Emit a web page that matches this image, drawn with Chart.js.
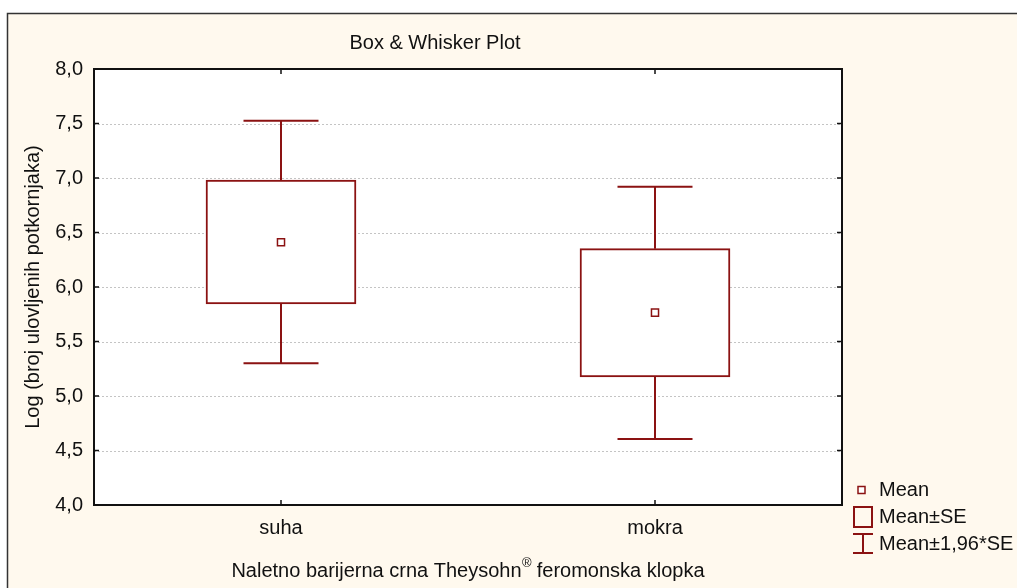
<!DOCTYPE html>
<html>
<head>
<meta charset="utf-8">
<script src="https://cdn.jsdelivr.net/npm/chart.js@4/dist/chart.umd.min.js"></script>
<style>
  html, body { margin: 0; padding: 0; background: #ffffff; }
  #wrap { position: absolute; left: 0; top: 0; width: 1017px; height: 588px; }
</style>
</head>
<body>
<div id="wrap"><canvas id="c" width="1017" height="588"></canvas></div>
<script>
// ---- data ----
const categories = ['suha', 'mokra'];
const means      = [6.41, 5.765];
const seLower    = [5.845, 5.175];   // Mean - SE
const seUpper    = [6.98, 6.352];    // Mean + SE
const ciLower    = [5.30, 4.606];    // Mean - 1,96*SE
const ciUpper    = [7.526, 6.92];    // Mean + 1,96*SE
const yTicks     = [4.0, 4.5, 5.0, 5.5, 6.0, 6.5, 7.0, 7.5, 8.0];

const titleText  = 'Box & Whisker Plot';
const xTitle     = 'Naletno barijerna crna Theysohn';
const xTitleSup  = '\u00AE';
const xTitleEnd  = ' feromonska klopka';
const yTitle     = 'Log (broj ulovljenih potkornjaka)';
const legendLabels = ['Mean', 'Mean\u00B1SE', 'Mean\u00B11,96*SE'];

const RED = '#8b1212';
const FONT = '"Liberation Sans", Arial, sans-serif';

const decor = {
  id: 'decor',
  beforeDraw(chart) {
    const ctx = chart.ctx, a = chart.chartArea;
    ctx.save();
    ctx.fillStyle = '#ffffff';
    ctx.fillRect(0, 0, chart.width, chart.height);
    ctx.fillStyle = '#fff9ee';
    ctx.fillRect(7, 13, chart.width - 7, chart.height - 13);
    ctx.strokeStyle = '#333333';
    ctx.lineWidth = 1.5;
    ctx.beginPath();
    ctx.moveTo(7.5, chart.height);
    ctx.lineTo(7.5, 13.5);
    ctx.lineTo(chart.width, 13.5);
    ctx.stroke();
    ctx.fillStyle = '#ffffff';
    ctx.fillRect(a.left, a.top, a.right - a.left, a.bottom - a.top);
    ctx.restore();
  },
  beforeDatasetsDraw(chart) {
    const ctx = chart.ctx, a = chart.chartArea, ys = chart.scales.y;
    ctx.save();
    ctx.strokeStyle = '#c4c4c4';
    ctx.lineWidth = 1;
    ctx.setLineDash([2, 2]);
    yTicks.forEach(v => {
      if (v <= ys.min || v >= ys.max) return;
      const py = Math.round(ys.getPixelForValue(v)) + 0.5;
      ctx.beginPath();
      ctx.moveTo(a.left, py);
      ctx.lineTo(a.right, py);
      ctx.stroke();
    });
    ctx.restore();
  },
  afterDatasetsDraw(chart) {
    const ctx = chart.ctx, a = chart.chartArea, xs = chart.scales.x, ys = chart.scales.y;
    ctx.save();
    // whiskers
    ctx.strokeStyle = RED;
    ctx.lineWidth = 2;
    const capHalf = 37.5;
    categories.forEach((c, i) => {
      const px = xs.getPixelForValue(i);
      const yHi = ys.getPixelForValue(ciUpper[i]);
      const yBh = ys.getPixelForValue(seUpper[i]);
      const yLo = ys.getPixelForValue(ciLower[i]);
      const yBl = ys.getPixelForValue(seLower[i]);
      ctx.beginPath();
      ctx.moveTo(px, yBh); ctx.lineTo(px, yHi);
      ctx.moveTo(px - capHalf, yHi); ctx.lineTo(px + capHalf, yHi);
      ctx.moveTo(px, yBl); ctx.lineTo(px, yLo);
      ctx.moveTo(px - capHalf, yLo); ctx.lineTo(px + capHalf, yLo);
      ctx.stroke();
    });
    ctx.restore();
  },
  afterDraw(chart) {
    const ctx = chart.ctx, a = chart.chartArea, xs = chart.scales.x, ys = chart.scales.y;
    ctx.save();
    // plot frame
    ctx.strokeStyle = '#111111';
    ctx.lineWidth = 2;
    ctx.strokeRect(a.left, a.top, a.right - a.left, a.bottom - a.top);
    // inward ticks
    ctx.lineWidth = 1.5;
    ctx.beginPath();
    yTicks.forEach(v => {
      const py = ys.getPixelForValue(v);
      ctx.moveTo(a.left, py); ctx.lineTo(a.left + 5, py);
      ctx.moveTo(a.right, py); ctx.lineTo(a.right - 5, py);
    });
    categories.forEach((c, i) => {
      const px = xs.getPixelForValue(i);
      ctx.moveTo(px, a.bottom); ctx.lineTo(px, a.bottom - 5);
      ctx.moveTo(px, a.top); ctx.lineTo(px, a.top + 5);
    });
    ctx.stroke();

    // texts
    ctx.fillStyle = '#111111';
    ctx.font = '20px ' + FONT;
    ctx.textBaseline = 'alphabetic';
    ctx.textAlign = 'center';
    ctx.fillText(titleText, 435, 49);

    // x title with superscript
    const w1 = ctx.measureText(xTitle).width;
    ctx.font = '13px ' + FONT;
    const w2 = ctx.measureText(xTitleSup).width;
    ctx.font = '20px ' + FONT;
    const w3 = ctx.measureText(xTitleEnd).width;
    let sx = 468 - (w1 + w2 + w3) / 2;
    ctx.textAlign = 'left';
    ctx.fillText(xTitle, sx, 577);
    ctx.font = '13px ' + FONT;
    ctx.fillText(xTitleSup, sx + w1 + 0.5, 567);
    ctx.font = '20px ' + FONT;
    ctx.fillText(xTitleEnd, sx + w1 + w2, 577);

    // y title
    ctx.save();
    ctx.translate(39, (a.top + a.bottom) / 2);
    ctx.rotate(-Math.PI / 2);
    ctx.textAlign = 'center';
    ctx.fillText(yTitle, 0, 0);
    ctx.restore();

    // legend
    ctx.textAlign = 'left';
    ctx.textBaseline = 'middle';
    ctx.fillText(legendLabels[0], 879, 490);
    ctx.fillText(legendLabels[1], 879, 517);
    ctx.fillText(legendLabels[2], 879, 544);
    ctx.strokeStyle = RED;
    ctx.lineWidth = 1.5;
    ctx.fillStyle = '#ffffff';
    ctx.fillRect(858, 486.5, 7, 7);
    ctx.strokeRect(858, 486.5, 7, 7);
    ctx.lineWidth = 2;
    ctx.strokeRect(854, 507, 18, 20);
    ctx.beginPath();
    ctx.moveTo(853, 534); ctx.lineTo(873, 534);
    ctx.moveTo(863, 534); ctx.lineTo(863, 553);
    ctx.moveTo(853, 553); ctx.lineTo(873, 553);
    ctx.stroke();
    ctx.restore();
  }
};

new Chart(document.getElementById('c'), {
  type: 'bar',
  data: {
    labels: categories,
    datasets: [
      {
        label: legendLabels[1],
        data: categories.map((c, i) => [seLower[i], seUpper[i]]),
        backgroundColor: '#ffffff',
        borderColor: RED,
        borderWidth: 2,
        borderSkipped: false,
        barThickness: 150,
        order: 2
      },
      {
        type: 'line',
        label: legendLabels[0],
        data: means,
        showLine: false,
        pointStyle: 'rect',
        pointRadius: 5,
        pointBorderWidth: 1.5,
        pointBorderColor: RED,
        pointBackgroundColor: '#ffffff',
        order: 1
      }
    ]
  },
  options: {
    responsive: false,
    devicePixelRatio: 1,
    animation: false,
    events: [],
    layout: { padding: { left: 34, right: 175, top: 69, bottom: 43 } },
    plugins: { legend: { display: false }, title: { display: false }, tooltip: { enabled: false } },
    scales: {
      x: {
        type: 'category',
        offset: true,
        grid: { display: false, drawTicks: false },
        border: { display: false },
        ticks: { color: '#111111', font: { family: FONT, size: 20 }, padding: 11 },
        afterFit(s) { s.height = 40; }
      },
      y: {
        min: 4, max: 8,
        grid: { display: false, drawTicks: false },
        border: { display: false },
        afterBuildTicks(s) { s.ticks = yTicks.map(v => ({ value: v })); },
        ticks: {
          color: '#111111',
          font: { family: FONT, size: 20 },
          padding: 11,
          callback: v => Number(v).toFixed(1).replace('.', ',')
        },
        afterFit(s) { s.width = 60; }
      }
    }
  },
  plugins: [decor]
});
</script>
</body>
</html>
